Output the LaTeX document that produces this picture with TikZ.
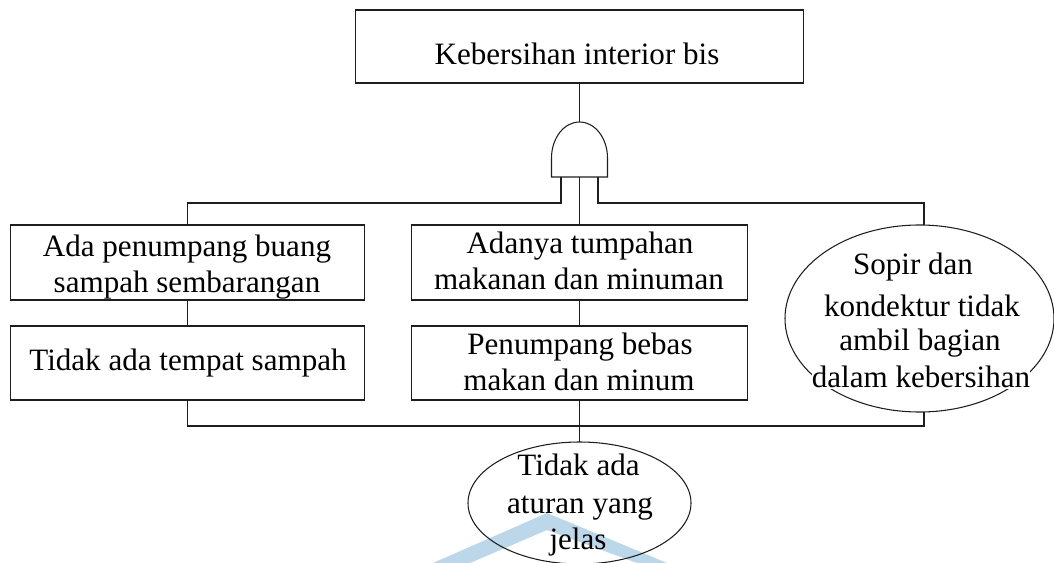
\documentclass[tikz,border=0pt]{standalone}
\usepackage{fontspec}
\setmainfont{Liberation Serif}
\usetikzlibrary{shapes.geometric}
\definecolor{ink}{RGB}{30,30,30}
\definecolor{chevronblue}{RGB}{188,214,234}
\begin{document}
\begin{tikzpicture}[x=0.75pt,y=-0.75pt,
  every node/.style={inner sep=0pt,outer sep=0pt},
  line/.style={draw=ink,line width=0.8pt},
  box/.style args={#1x#2}{line,rectangle,minimum width=#1*0.75pt,minimum height=#2*0.75pt},
  oval/.style args={#1x#2}{line,ellipse,minimum width=#1*0.75pt,minimum height=#2*0.75pt},
  txt/.style={anchor=base,font=\fontsize{23.3}{28}\selectfont,text=black},
]
\useasboundingbox (0,0) rectangle (1054,563);
\begin{scope}
\clip (0,0) rectangle (1054,563);
% faint chevron in the background
\fill[chevronblue] (433,563) -- (547,513) -- (667,563) -- (637,563) -- (547,530) -- (470,563) -- cycle;

% boxes and ovals
\node[box=448x73] (top) at (579.5,46.5) {};
\node[box=354x75] (l1) at (187.5,262.5) {};
\node[box=354x74] (l2) at (187.5,363) {};
\node[box=336x75] (m1) at (579.5,262.5) {};
\node[box=336x74] (m2) at (579.5,363) {};
\node[oval=269x187] (r) at (919.5,318.5) {};
\node[oval=223x122] (b) at (579.5,503) {};

% AND gate (y axis points down, so the dome runs through 270 degrees)
\coordinate (gtop) at (579.5,122);
\draw[line] (551.5,177) -- (551.5,158) arc[start angle=180,end angle=360,x radius=28,y radius=36] -- (607.5,177) -- cycle;
\coordinate (gin1) at (561,177);
\coordinate (gin2) at (579.5,177);
\coordinate (gin3) at (598,177);

% connectors
\draw[line] (top.south) -- (gtop);
\draw[line] (gin1) -- (561,203) -| (l1.north);
\draw[line] (gin2) -- (m1.north);
\draw[line] (gin3) -- (598,203) -| (924,225);
\draw[line] (l1.south) -- (l2.north);
\draw[line] (m1.south) -- (m2.north);
\coordinate (j) at (579.5,426);
\draw[line] (l2.south) |- (j);
\draw[line] (924,412) |- (j);
\draw[line] (m2.south) -- (b.north);

% texts
\node[txt] (t0) at (577,65) {Kebersihan interior bis};
\node[txt] (t1) at (187,257) {Ada penumpang buang};
\node[txt] (t2) at (187,292) {sampah sembarangan};
\node[txt] (t3) at (188,370) {Tidak ada tempat sampah};
\node[txt] (t4) at (580,253) {Adanya tumpahan};
\node[txt] (t5) at (579,290) {makanan dan minuman};
\node[txt] (t6) at (580,354) {Penumpang bebas};
\node[txt,fill=white,inner ysep=3pt] (t7) at (579,390) {makan dan minum};
\node[txt] (t8) at (913,275) {Sopir dan};
\node[txt] (t9) at (922,316) {kondektur tidak};
\node[txt] (t10) at (920,350) {ambil bagian};
\node[txt,fill=white,inner ysep=1pt] (t11) at (921,387) {dalam kebersihan};
\node[txt] (t12) at (578.5,475) {Tidak ada};
\node[txt] (t13) at (580,513) {aturan yang};
\node[txt] (t14) at (578,549) {jelas};
\end{scope}
\end{tikzpicture}
\end{document}
